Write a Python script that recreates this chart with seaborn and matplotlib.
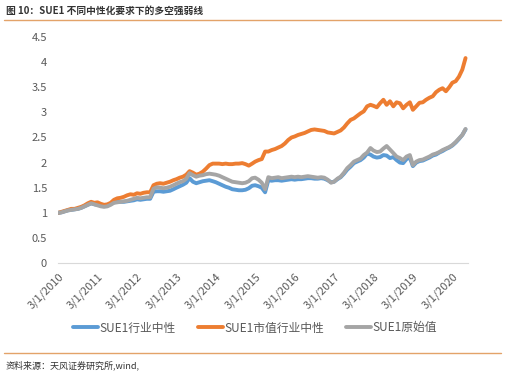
import pandas as pd
import numpy as np
import matplotlib
matplotlib.use('Agg')
import matplotlib.pyplot as plt
from matplotlib.lines import Line2D
import seaborn as sns

# monthly points, Mar 2010 .. Jul 2020
dates = pd.date_range('2010-03-01', '2020-07-01', freq='MS')

# SUE1行业中性 (blue)
blue = [1.00, 1.01, 1.03, 1.05, 1.06, 1.07, 1.08, 1.10, 1.13, 1.16, 1.19, 1.17,
        1.16, 1.15, 1.14, 1.15, 1.18, 1.21, 1.22, 1.22, 1.22, 1.23, 1.24, 1.25,
        1.27, 1.26, 1.27, 1.28, 1.28, 1.42, 1.43, 1.43, 1.42, 1.43, 1.44, 1.47,
        1.50, 1.53, 1.56, 1.60, 1.69, 1.62, 1.59, 1.61, 1.63, 1.64, 1.65, 1.63,
        1.61, 1.58, 1.55, 1.52, 1.50, 1.47, 1.46, 1.45, 1.45, 1.46, 1.49, 1.54,
        1.55, 1.53, 1.50, 1.41, 1.65, 1.64, 1.65, 1.65, 1.64, 1.65, 1.66, 1.67,
        1.66, 1.67, 1.67, 1.68, 1.69, 1.69, 1.68, 1.68, 1.69, 1.68, 1.65, 1.61,
        1.62, 1.67, 1.71, 1.78, 1.86, 1.92, 1.99, 2.02, 2.05, 2.10, 2.18, 2.16,
        2.12, 2.10, 2.11, 2.15, 2.14, 2.09, 2.11, 2.05, 2.00, 1.99, 2.07, 2.10,
        1.93, 2.00, 2.03, 2.04, 2.07, 2.10, 2.14, 2.16, 2.20, 2.23, 2.27, 2.30,
        2.34, 2.40, 2.47, 2.55, 2.66]

# SUE1市值行业中性 (orange)
orange = [1.00, 1.02, 1.04, 1.06, 1.08, 1.08, 1.10, 1.12, 1.15, 1.19, 1.22, 1.20,
          1.21, 1.18, 1.16, 1.17, 1.20, 1.26, 1.29, 1.30, 1.32, 1.35, 1.37, 1.36,
          1.39, 1.38, 1.40, 1.41, 1.41, 1.55, 1.58, 1.59, 1.58, 1.60, 1.62, 1.65,
          1.67, 1.70, 1.72, 1.76, 1.83, 1.80, 1.76, 1.78, 1.82, 1.88, 1.95, 1.98,
          1.98, 1.98, 1.97, 1.98, 1.97, 1.97, 1.98, 1.98, 1.99, 1.97, 1.94, 1.98,
          2.02, 2.05, 2.07, 2.22, 2.22, 2.25, 2.27, 2.30, 2.33, 2.38, 2.45, 2.50,
          2.52, 2.55, 2.57, 2.59, 2.62, 2.65, 2.66, 2.65, 2.64, 2.63, 2.60, 2.59,
          2.58, 2.61, 2.64, 2.70, 2.78, 2.85, 2.88, 2.93, 2.98, 3.02, 3.12, 3.15,
          3.13, 3.10, 3.18, 3.25, 3.15, 3.22, 3.12, 3.20, 3.18, 3.08, 3.15, 3.20,
          3.05, 3.12, 3.19, 3.20, 3.25, 3.29, 3.32, 3.40, 3.45, 3.48, 3.42, 3.50,
          3.59, 3.62, 3.71, 3.85, 4.08]

# SUE1原始值 (gray)
gray = [1.00, 1.01, 1.03, 1.05, 1.06, 1.07, 1.08, 1.10, 1.13, 1.16, 1.19, 1.17,
        1.15, 1.13, 1.12, 1.13, 1.16, 1.20, 1.21, 1.22, 1.23, 1.24, 1.26, 1.28,
        1.30, 1.29, 1.30, 1.31, 1.31, 1.48, 1.51, 1.50, 1.49, 1.50, 1.52, 1.55,
        1.58, 1.61, 1.63, 1.68, 1.79, 1.75, 1.72, 1.74, 1.75, 1.77, 1.78, 1.77,
        1.76, 1.74, 1.71, 1.68, 1.65, 1.62, 1.61, 1.60, 1.59, 1.60, 1.63, 1.69,
        1.70, 1.66, 1.60, 1.47, 1.71, 1.69, 1.70, 1.71, 1.69, 1.70, 1.71, 1.72,
        1.71, 1.72, 1.71, 1.72, 1.73, 1.72, 1.71, 1.70, 1.71, 1.70, 1.66, 1.60,
        1.62, 1.68, 1.72, 1.80, 1.89, 1.95, 2.02, 2.05, 2.08, 2.15, 2.20, 2.29,
        2.24, 2.21, 2.22, 2.28, 2.33, 2.26, 2.19, 2.12, 2.09, 2.05, 2.12, 2.15,
        1.95, 2.02, 2.05, 2.06, 2.09, 2.12, 2.16, 2.18, 2.21, 2.25, 2.28, 2.31,
        2.35, 2.41, 2.48, 2.55, 2.67]

names = ['SUE1行业中性', 'SUE1市值行业中性', 'SUE1原始值']
colors = ['#5B9BD5', '#ED7D31', '#A5A5A5']

df = pd.DataFrame({'date': dates, names[0]: blue, names[1]: orange, names[2]: gray})
long = df.melt(id_vars='date', var_name='series', value_name='value')

sns.set_style('white')
plt.rcParams['font.family'] = ['Noto Sans CJK SC', 'DejaVu Sans']

fig = plt.figure(figsize=(5.05, 3.77), dpi=100)
ax = fig.add_axes([0.115, 0.302, 0.812, 0.600])

sns.lineplot(data=long, x='date', y='value', hue='series', hue_order=names,
             palette=colors, linewidth=2.8, ax=ax, legend=True)

ax.set_ylim(0, 4.5)
ax.set_yticks(np.arange(0, 4.51, 0.5))
ax.set_yticklabels(['0', '0.5', '1', '1.5', '2', '2.5', '3', '3.5', '4', '4.5'])
ax.set_xlim(pd.Timestamp('2010-03-01'), pd.Timestamp('2020-07-25'))
ticks = pd.date_range('2010-03-01', '2020-03-01', freq='12MS')
ax.set_xticks(ticks)
ax.set_xticklabels([f'{d.month}/{d.day}/{d.year}' for d in ticks], rotation=45,
                   ha='right', rotation_mode='anchor')
ax.set_xlabel('')
ax.set_ylabel('')
for s in ['top', 'right', 'left']:
    ax.spines[s].set_visible(False)
ax.spines['bottom'].set_color('#D9D9D9')
ax.tick_params(axis='x', colors='#595959', labelsize=8, length=4, color='#D9D9D9', pad=2)
ax.tick_params(axis='y', colors='#595959', labelsize=8, length=0, pad=8)

handles, labels = ax.get_legend_handles_labels()
ax.get_legend().remove()
fig.legend(handles, labels, loc='center', bbox_to_anchor=(0.505, 0.13), ncol=3,
           frameon=False, fontsize=8.5, labelcolor='#595959', handlelength=2.1,
           handletextpad=0.1, columnspacing=1.9)

fig.text(0.012, 0.972, '图 10：SUE1 不同中性化要求下的多空强弱线', fontsize=7,
         fontweight='bold', color='#333333', va='center')
fig.add_artist(Line2D([0.008, 0.992], [0.947, 0.947], color='#E3A369', lw=1))
fig.add_artist(Line2D([0.008, 0.992], [0.064, 0.064], color='#E3A369', lw=1))
fig.text(0.012, 0.03, '资料来源：天风证券研究所,wind,', fontsize=6.5, color='#333333',
         va='center')

fig.savefig('out.png', dpi=100)
